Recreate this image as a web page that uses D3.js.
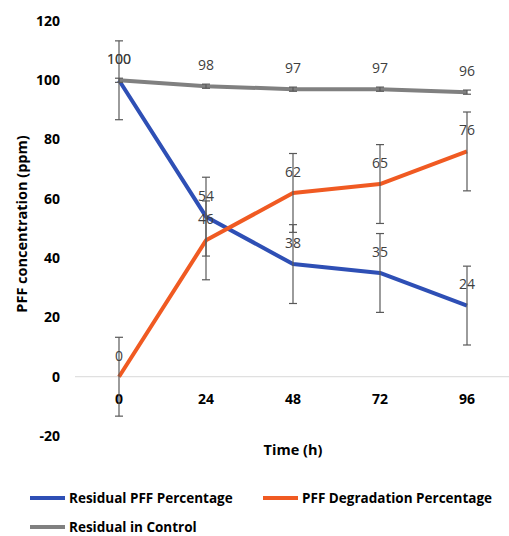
<!DOCTYPE html>
<html><head><meta charset="utf-8">
<script src="https://cdn.jsdelivr.net/npm/d3@7"></script>
<style>body{margin:0;background:#fff}svg{display:block}</style>
</head><body>
<svg id="c" width="509" height="536"></svg>
<script>
const categories = ["0", "24", "48", "72", "96"];
const residualPFF = [100, 54, 38, 35, 24];
const degradation = [0, 46, 62, 65, 76];
const control = [100, 98, 97, 97, 96];
const errResidual = [13.3, 13.3, 13.3, 13.3, 13.3];
const errDegradation = [13.3, 13.3, 13.3, 13.3, 13.3];
const errControl = [0.7, 0.7, 0.7, 0.7, 0.7];
const yTicks = [-20, 0, 20, 40, 60, 80, 100, 120];
const seriesNames = ["Residual PFF Percentage", "PFF Degradation Percentage", "Residual in Control"];

const series = [
  {name: seriesNames[0], values: residualPFF, err: errResidual, color: "#2e4fb5"},
  {name: seriesNames[1], values: degradation, err: errDegradation, color: "#f05a22"},
  {name: seriesNames[2], values: control, err: errControl, color: "#808080"}
];

const svg = d3.select("#c");
const x = d3.scalePoint().domain(categories).range([119, 467]);
const y = d3.scaleLinear().domain([-20, 120]).range([436, 21]);

// baseline at 0
svg.append("line").attr("x1", 75).attr("x2", 511)
  .attr("y1", y(0)).attr("y2", y(0)).attr("stroke", "#d9d9d9").attr("stroke-width", 1);

// y tick labels
svg.append("g").selectAll("text").data(yTicks).join("text")
  .attr("x", 60).attr("y", d => y(d)).attr("dy", "0.35em")
  .attr("text-anchor", "end")
  .attr("font-family", "Open Sans").attr("font-weight", "bold").attr("font-size", 14)
  .attr("fill", "#000").text(d => d);

// x tick labels
svg.append("g").selectAll("text").data(categories).join("text")
  .attr("x", d => x(d)).attr("y", 399).attr("dy", "0.35em")
  .attr("text-anchor", "middle")
  .attr("font-family", "Open Sans").attr("font-weight", "bold").attr("font-size", 14)
  .attr("fill", "#000").text(d => d);

// axis titles
svg.append("text").attr("x", 293).attr("y", 450).attr("dy", "0.35em")
  .attr("text-anchor", "middle")
  .attr("font-family", "Open Sans").attr("font-weight", "bold").attr("font-size", 14.5)
  .text("Time (h)");
svg.append("text").attr("transform", "translate(22,224) rotate(-90)")
  .attr("dy", "0.35em").attr("text-anchor", "middle")
  .attr("font-family", "Open Sans").attr("font-weight", "bold").attr("font-size", 14.5)
  .text("PFF concentration (ppm)");

// lines
const line = d3.line().x((d, i) => x(categories[i])).y(d => y(d));
series.forEach(s => {
  svg.append("path").datum(s.values).attr("d", line)
    .attr("fill", "none").attr("stroke", s.color).attr("stroke-width", 4)
    .attr("stroke-linejoin", "round");
});

// error bars
series.forEach(s => {
  const g = svg.append("g").attr("stroke", "#595959").attr("stroke-width", 1.2);
  s.values.forEach((v, i) => {
    const cx = x(categories[i]);
    const top = y(v + s.err[i]), bot = y(v - s.err[i]);
    g.append("line").attr("x1", cx).attr("x2", cx).attr("y1", top).attr("y2", bot);
    g.append("line").attr("x1", cx - 4).attr("x2", cx + 4).attr("y1", top).attr("y2", top);
    g.append("line").attr("x1", cx - 4).attr("x2", cx + 4).attr("y1", bot).attr("y2", bot);
  });
});

// data labels
series.forEach(s => {
  svg.append("g").selectAll("text").data(s.values).join("text")
    .attr("x", (d, i) => x(categories[i])).attr("y", d => y(d) - 21).attr("dy", "0.35em")
    .attr("text-anchor", "middle")
    .attr("font-family", "Open Sans").attr("font-size", 14).attr("fill", "#404040")
    .text(d => d);
});

// legend
const legendPos = [[30, 498], [263, 498], [30, 527]];
series.forEach((s, i) => {
  const [lx, ly] = legendPos[i];
  svg.append("line").attr("x1", lx).attr("x2", lx + 35).attr("y1", ly).attr("y2", ly)
    .attr("stroke", s.color).attr("stroke-width", 4);
  svg.append("text").attr("x", lx + 39).attr("y", ly).attr("dy", "0.35em")
    .attr("font-family", "Open Sans").attr("font-weight", "bold").attr("font-size", 13.5)
    .text(s.name);
});
</script>
</body></html>
